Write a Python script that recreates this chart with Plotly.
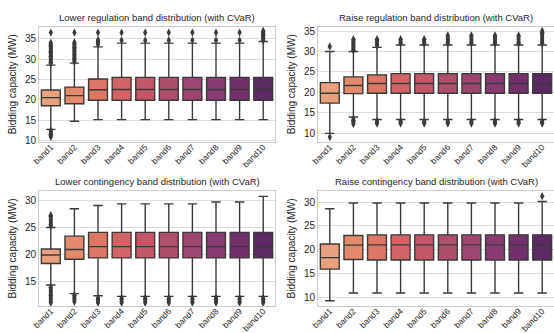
import plotly.graph_objects as go

BANDS = ["band1", "band2", "band3", "band4", "band5", "band6", "band7", "band8", "band9", "band10"]
COLORS = ["#e8a07e", "#e38a6c", "#dc7766", "#d26468", "#c4586a",
          "#b04f6c", "#9d456e", "#893a70", "#72316a", "#5b2a62"]

TITLES = ["Lower regulation band distribution (with CVaR)",
          "Raise regulation band distribution (with CVaR)",
          "Lower contingency band distribution (with CVaR)",
          "Raise contingency band distribution (with CVaR)"]
Y_LABEL = "Bidding capacity (MW)"

# Lower regulation
LR_Q1 = [18.5, 19.0, 19.85, 19.85, 19.85, 19.85, 19.85, 19.85, 19.85, 19.85]
LR_MED = [20.5, 21.0, 22.45, 22.5, 22.5, 22.5, 22.5, 22.5, 22.5, 22.5]
LR_Q3 = [22.4, 23.1, 25.1, 25.5, 25.5, 25.5, 25.5, 25.5, 25.5, 25.5]
LR_LO = [12.7, 14.7, 15.1, 15.1, 15.1, 15.1, 15.1, 15.1, 15.1, 15.1]
LR_HI = [28.5, 29.0, 33.0, 33.9, 33.9, 33.9, 33.9, 33.9, 33.9, 34.3]
LR_OUT = [
    [28.9, 29.2, 29.5, 29.8, 30.1, 30.4, 30.7, 31.0, 31.3, 31.6, 31.9, 32.2, 32.5, 32.8, 33.1, 33.4, 33.7, 34.0, 36.5,
     12.4, 12.1, 11.8, 11.5, 11.2, 10.9],
    [29.3, 29.6, 29.9, 30.2, 30.5, 30.8, 31.1, 31.4, 31.7, 32.0, 32.3, 32.6, 32.9, 33.2, 33.5, 33.8, 34.1, 36.5],
    [33.6, 34.0, 34.4, 34.7, 36.5],
    [34.6, 36.5], [34.6, 36.5], [34.6, 36.5], [34.6, 36.5], [34.6, 36.5], [34.6, 36.5],
    [34.6, 34.9, 35.2, 35.5, 35.8, 36.1, 36.4, 36.7, 36.9],
]

# Raise regulation
RR_Q1 = [17.4, 19.7, 19.8, 19.8, 19.8, 19.8, 19.8, 19.8, 19.8, 19.8]
RR_MED = [19.8, 21.7, 22.2, 22.2, 22.2, 22.2, 22.2, 22.2, 22.2, 22.2]
RR_Q3 = [22.4, 23.8, 24.3, 24.6, 24.6, 24.6, 24.6, 24.6, 24.6, 24.6]
RR_LO = [10.0, 14.0, 13.4, 13.4, 13.4, 13.4, 13.4, 13.4, 13.4, 13.4]
RR_HI = [30.0, 30.0, 31.0, 31.6, 31.6, 31.6, 31.6, 31.6, 31.6, 31.6]
RR_OUT = [
    [31.2, 9.1],
    [30.3, 30.6, 30.9, 31.2, 31.5, 31.8, 32.1, 32.4, 32.7, 33.0, 13.6, 13.2, 12.9, 12.6, 12.3],
    [31.4, 31.8, 32.2, 32.6, 33.0, 13.0, 12.7, 12.4],
    [32.0, 32.4, 32.8, 33.0, 13.0, 12.7, 12.4],
    [32.0, 32.4, 32.8, 33.0, 13.0, 12.7, 12.4],
    [32.0, 32.4, 32.8, 33.2, 33.6, 33.9, 13.0, 12.7, 12.4],
    [32.0, 32.4, 32.8, 33.2, 33.6, 33.9, 13.0, 12.7, 12.4],
    [32.0, 32.4, 32.8, 33.2, 33.6, 33.9, 13.0, 12.7, 12.4],
    [32.0, 32.4, 32.8, 33.2, 33.6, 33.9, 13.0, 12.7, 12.4],
    [32.0, 32.4, 32.8, 33.2, 33.6, 34.0, 34.4, 34.7, 35.0, 13.0, 12.7, 12.4],
]

# Lower contingency
LC_Q1 = [18.3, 19.1, 19.35, 19.35, 19.35, 19.35, 19.35, 19.35, 19.35, 19.35]
LC_MED = [19.9, 20.9, 21.45, 21.45, 21.45, 21.45, 21.45, 21.45, 21.45, 21.45]
LC_Q3 = [21.0, 23.4, 24.1, 24.1, 24.1, 24.1, 24.1, 24.1, 24.1, 24.1]
LC_LO = [14.3, 12.7, 12.3, 12.2, 12.2, 12.2, 12.2, 12.2, 12.2, 12.2]
LC_HI = [25.0, 28.5, 29.1, 29.4, 29.4, 29.4, 29.4, 29.75, 29.75, 30.8]
LC_OUT = [
    [25.3, 25.6, 25.9, 26.2, 26.5, 26.8, 27.1, 27.3,
     13.9, 13.6, 13.3, 13.0, 12.7, 12.4, 12.1, 11.8, 11.5, 11.2, 11.0],
    [12.4, 12.1, 11.8, 11.5, 11.2],
    [11.9, 11.6, 11.3, 11.0], [11.9, 11.6, 11.3, 11.0], [11.9, 11.6, 11.3, 11.0],
    [11.9, 11.6, 11.3, 11.0], [11.9, 11.6, 11.3, 11.0], [11.9, 11.6, 11.3, 11.0],
    [11.9, 11.6, 11.3, 11.0], [11.9, 11.6, 11.3, 11.0],
]

# Raise contingency
RC_Q1 = [16.0, 18.0, 17.9, 17.9, 17.9, 17.9, 17.9, 17.9, 17.9, 17.9]
RC_MED = [18.4, 21.0, 21.05, 21.05, 21.05, 21.05, 21.05, 21.05, 21.05, 21.05]
RC_Q3 = [21.25, 23.0, 23.15, 23.15, 23.15, 23.15, 23.15, 23.15, 23.15, 23.15]
RC_LO = [9.4, 11.0, 11.0, 11.0, 11.0, 11.0, 11.0, 11.0, 11.0, 11.0]
RC_HI = [28.6, 29.8, 29.8, 29.8, 29.8, 29.8, 29.8, 29.8, 29.8, 30.1]
RC_OUT = [[], [], [], [], [], [], [], [], [], [31.2]]

PANELS = [
    (LR_Q1, LR_MED, LR_Q3, LR_LO, LR_HI, LR_OUT),
    (RR_Q1, RR_MED, RR_Q3, RR_LO, RR_HI, RR_OUT),
    (LC_Q1, LC_MED, LC_Q3, LC_LO, LC_HI, LC_OUT),
    (RC_Q1, RC_MED, RC_Q3, RC_LO, RC_HI, RC_OUT),
]
Y_RANGES = [[9.6, 38.0], [7.9, 36.1], [10.4, 31.8], [8.3, 32.3]]
Y_TICKS = [[10, 15, 20, 25, 30, 35], [10, 15, 20, 25, 30, 35], [15, 20, 25, 30], [10, 15, 20, 25, 30]]

W, H = 554, 333
X_DOMS = [[39 / W, 275 / W], [318 / W, 1.0], [39 / W, 275 / W], [318 / W, 1.0]]
Y_DOMS = [[1 - 142 / H, 1 - 26.5 / H], [1 - 142 / H, 1 - 26.5 / H],
          [1 - 306 / H, 1 - 191 / H], [1 - 306 / H, 1 - 191 / H]]

LINE = "#3a3a3a"
FONT = "Liberation Sans, Arial, sans-serif"

fig = go.Figure()
for p, (q1, med, q3, lo, hi, outs) in enumerate(PANELS):
    xa = "x" if p == 0 else f"x{p + 1}"
    ya = "y" if p == 0 else f"y{p + 1}"
    for i, band in enumerate(BANDS):
        fig.add_trace(go.Box(
            x=[band], q1=[q1[i]], median=[med[i]], q3=[q3[i]],
            lowerfence=[lo[i]], upperfence=[hi[i]],
            fillcolor=COLORS[i], line=dict(color=LINE, width=1.4),
            width=0.8, whiskerwidth=0.5, boxpoints=False,
            xaxis=xa, yaxis=ya, showlegend=False, hoverinfo="skip",
        ))
        if outs[i]:
            fig.add_trace(go.Scatter(
                x=[band] * len(outs[i]), y=outs[i], mode="markers",
                marker=dict(symbol="diamond-tall", size=6, color=LINE, line=dict(width=0)),
                xaxis=xa, yaxis=ya, showlegend=False, hoverinfo="skip",
            ))

layout = dict(
    width=W, height=H, margin=dict(l=0, r=0, t=0, b=0),
    paper_bgcolor="white", plot_bgcolor="white",
    font=dict(family=FONT, size=10, color="#262626"),
    annotations=[],
)
for p in range(4):
    sfx = "" if p == 0 else str(p + 1)
    layout["xaxis" + sfx] = dict(
        domain=X_DOMS[p], anchor="y" + sfx, type="category",
        categoryorder="array", categoryarray=BANDS, range=[-0.5, 9.5],
        showgrid=False, showline=True, mirror=True, linecolor="#cccccc", linewidth=1,
        tickangle=-45, tickfont=dict(size=8.5, color="#262626"), ticks="", automargin=False,
        ticklabelstandoff=-4,
    )
    layout["yaxis" + sfx] = dict(
        domain=Y_DOMS[p], anchor="x" + sfx, range=Y_RANGES[p],
        tickvals=Y_TICKS[p], showgrid=True, gridcolor="#dcdcdc", gridwidth=1,
        zeroline=False, showline=True, mirror=True, linecolor="#cccccc", linewidth=1,
        tickfont=dict(size=10, color="#262626"), ticks="", automargin=False,
        title=dict(text=Y_LABEL, font=dict(size=10, color="#262626"), standoff=6),
    )
    xd, yd = X_DOMS[p], Y_DOMS[p]
    layout["annotations"].append(dict(
        text=TITLES[p], xref="paper", yref="paper",
        x=(xd[0] + xd[1]) / 2, y=yd[1] + 2 / H, xanchor="center", yanchor="bottom",
        showarrow=False, font=dict(size=9.5, color="#262626"),
    ))

fig.update_layout(**layout)
fig.write_html("out.html", config={"displayModeBar": False},
               post_script="document.body.style.margin='0';document.body.style.overflow='hidden';")
